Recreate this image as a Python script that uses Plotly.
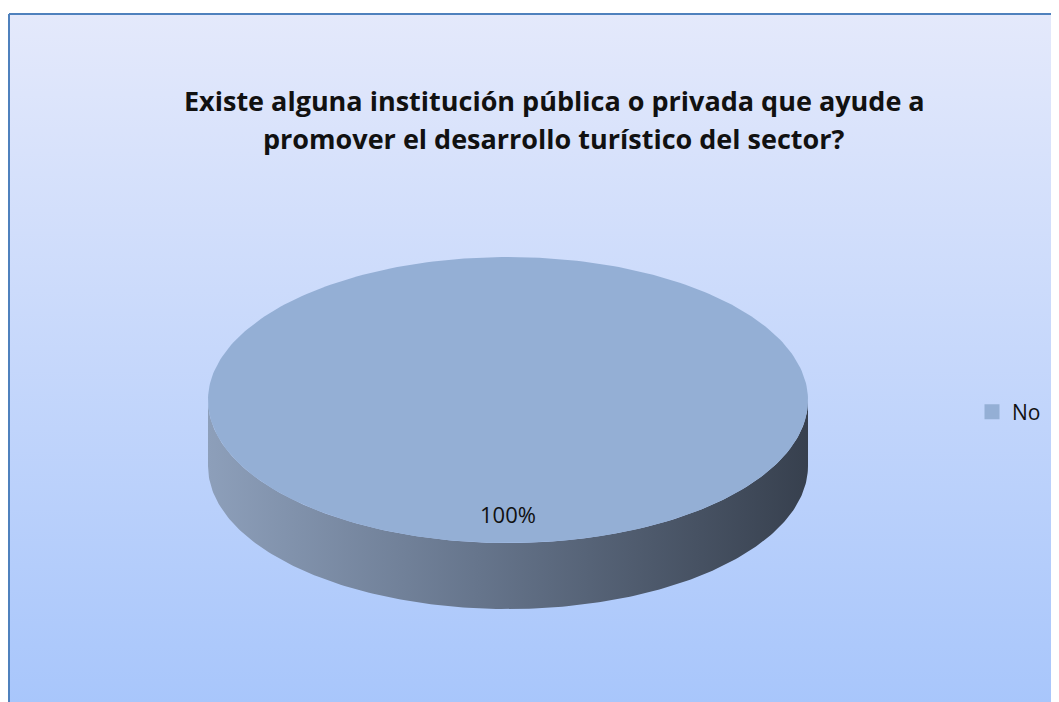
import numpy as np
import plotly.graph_objects as go

# ---- data ----
labels = ["No"]
values = [100]
title_lines = ["Existe alguna institución pública o privada que ayude a",
               "promover el desarrollo turístico del sector?"]

# ---- style ----
W, H = 1059, 702
OFF = 8  # browser body margin
top_colors = ["#94afd5"]
side_scale = [[0, "#8d9fba"], [0.45, "#66758c"], [1, "#37404e"]]
cx, cy, rx, ry, depth = 508, 400, 300, 143, 66
box_l, box_t = 9, 14
FONT = "Open Sans, Noto Sans, sans-serif"

fig = go.Figure()

# background panel with vertical gradient
fig.add_trace(go.Scatter(
    x=[box_l, W + 2, W + 2, box_l, box_l], y=[box_t, box_t, H + 2, H + 2, box_t],
    mode="lines", fill="toself", line=dict(color="#4f81bd", width=2),
    fillgradient=dict(type="vertical",
                      colorscale=[[0, "#a8c6fb"], [1, "#e4e9fb"]]),
    hoverinfo="skip", showlegend=False))

total = float(sum(values))
fracs = [v / total for v in values]

# side wall (front half of the disc)
t = np.linspace(0, np.pi, 200)
ex = cx + rx * np.cos(t)
ey = cy + ry * np.sin(t)
sx = np.concatenate([ex, ex[::-1], ex[:1]])
sy = np.concatenate([ey, ey[::-1] + depth, ey[:1]])
fig.add_trace(go.Scatter(
    x=sx, y=sy, mode="lines", fill="toself", line=dict(width=0, color="rgba(0,0,0,0)"),
    fillgradient=dict(type="horizontal", colorscale=side_scale),
    hoverinfo="skip", showlegend=False))

# top faces of slices (angles clockwise from 12 o'clock)
start = 0.0
for lab, f, col in zip(labels, fracs, top_colors):
    a = np.linspace(start, start + 2 * np.pi * f, 300)
    px = cx + rx * np.sin(a)
    py = cy - ry * np.cos(a)
    if f < 1:
        px = np.concatenate([[cx], px, [cx]])
        py = np.concatenate([[cy], py, [cy]])
    fig.add_trace(go.Scatter(
        x=px, y=py, mode="lines", fill="toself", fillcolor=col,
        line=dict(width=0, color=col), hoverinfo="skip", showlegend=False))
    mid = start + np.pi * f
    fig.add_annotation(x=cx + 0.8 * rx * np.sin(mid), y=cy - 0.8 * ry * np.cos(mid),
                       text=f"{round(f * 100)}%", showarrow=False,
                       font=dict(family=FONT, size=22, color="#111111"))
    fig.add_trace(go.Scatter(x=[None], y=[None], mode="markers", name=lab,
                             marker=dict(symbol="square", size=15, color=col)))
    start += 2 * np.pi * f

for i, line in enumerate(title_lines):
    fig.add_annotation(x=554, y=100 + 38 * i, text=f"<b>{line}</b>", showarrow=False,
                       font=dict(family=FONT, size=27, color="#111111"))

fig.update_layout(
    width=W - OFF, height=H - OFF, margin=dict(l=0, r=0, t=0, b=0),
    paper_bgcolor="white", plot_bgcolor="white",
    xaxis=dict(range=[OFF, W], visible=False, fixedrange=True),
    yaxis=dict(range=[H, OFF], visible=False, fixedrange=True),
    legend=dict(x=(972 - OFF) / (W - OFF), y=1 - (412 - OFF) / (H - OFF),
                xanchor="left", yanchor="middle",
                bgcolor="rgba(0,0,0,0)", font=dict(family=FONT, size=21, color="#111111"),
                itemsizing="trace"),
    showlegend=True,
)

fig.write_html("out.html")
